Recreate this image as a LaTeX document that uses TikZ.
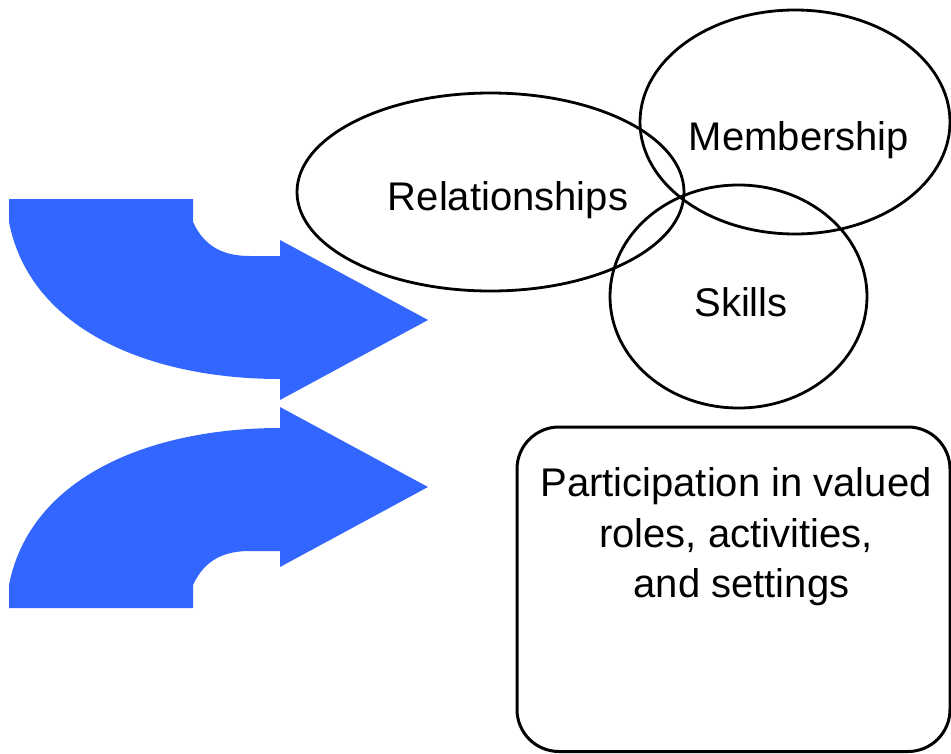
\documentclass[tikz,border=0pt]{standalone}
\usepackage{fontspec}
\setmainfont{Liberation Sans}
\usetikzlibrary{shapes.geometric}
\definecolor{arrowblue}{HTML}{3366FF}
% outline of one bent arrow, drawn in pixel-like units
\def\bentarrowpath{(9,199) -- (193,199) -- (193,222)
  .. controls (205,248) and (225,256) .. (250,256) -- (280,256)
  -- (280,240) -- (428,320) -- (280,400) -- (280,379)
  .. controls (150,379) and (30,330) .. (9,222) -- cycle}
\begin{document}
\begin{tikzpicture}[x=1pt,y=-1pt,
  oval/.style={ellipse,draw=black,line width=2.8pt,inner sep=0pt},
  caption/.style={font=\fontsize{40}{50.5}\selectfont,inner sep=0pt,anchor=base},
  box/.style={draw=black,line width=3pt,rounded corners=42pt,inner sep=0pt},
  bentarrow/.style={fill=arrowblue,draw=none}]
\useasboundingbox (0,0) rectangle (951,753);

% two bent arrows, the lower one mirrored
\fill[bentarrow] \bentarrowpath;
\begin{scope}[shift={(0,807)},yscale=-1]
  \fill[bentarrow] \bentarrowpath;
\end{scope}

% overlapping ovals
\node[oval,minimum width=387pt,minimum height=198pt] (relE) at (490.5,192) {};
\node[oval,minimum width=310pt,minimum height=224pt] (memE) at (795,122) {};
\node[oval,minimum width=257pt,minimum height=223pt] (skiE) at (738.5,296.5) {};

\node[caption] (relT) at (508,210) {Relationships};
\node[caption] (memT) at (799,150) {Membership};
\node[caption] (skiT) at (741,316) {Skills};

% outcome box
\node[box,minimum width=433pt,minimum height=324.5pt] (part) at (733.5,589.25) {};
\node[caption,align=center,anchor=north] (partT) at (736,467.4)
  {Participation in valued\\roles, activities,\\\hspace*{11pt}and settings};
\end{tikzpicture}
\end{document}
